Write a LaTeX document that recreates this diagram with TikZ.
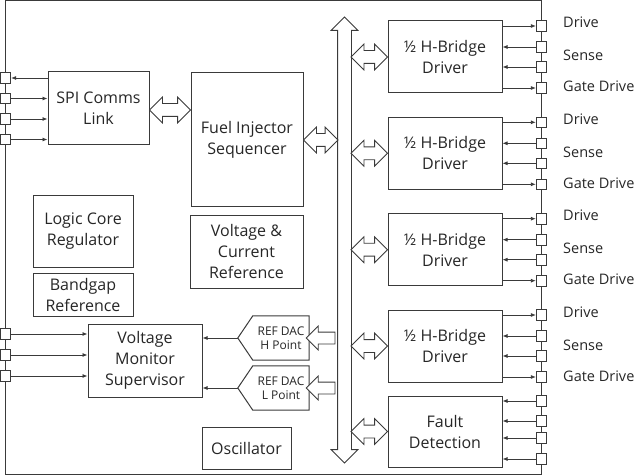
\documentclass[tikz,border=0pt]{standalone}
\usepackage{fontspec}
\setmainfont{Open Sans}
\usetikzlibrary{arrows.meta, shapes.arrows, calc}
\definecolor{linegray}{HTML}{3A3A3A}
\definecolor{textgray}{HTML}{262626}

% wide hollow arrow between two points
\newcommand{\fatlink}[3][dblarrow]{%
  \path let \p1=(#2), \p2=(#3), \n1={veclen(\x2-\x1,\y2-\y1)} in
    node[#1, minimum height=\n1] at ($(#2)!0.5!(#3)$) {};}

\begin{document}
\begin{tikzpicture}[x=1pt, y=-1pt,
    box/.style={rectangle, draw=linegray, line width=1pt, align=center,
                inner sep=0pt, font=\fontsize{16}{21}\selectfont, text=textgray},
    dacbox/.style={rectangle, minimum width=56pt, minimum height=44pt,
                inner sep=0pt, align=center, font=\fontsize{12}{14}\selectfont,
                text=textgray},
    dacline/.style={draw=linegray, line width=1pt},
    iopad/.style={rectangle, draw=linegray, fill=white, line width=0.8pt,
                minimum size=10.5pt, inner sep=0pt},
    sig/.style={-{Latex[length=5pt, width=4pt]}, line width=0.8pt, draw=linegray},
    dblarrow/.style={double arrow, draw=linegray, fill=white, line width=0.8pt,
                inner xsep=0pt, inner ysep=6pt, double arrow head extend=6.5pt},
    sglarrow/.style={single arrow, draw=linegray, fill=white, line width=0.8pt,
                inner xsep=0pt, inner ysep=5.5pt, single arrow head extend=6pt,
                rotate=180},
    lbl/.style={anchor=base west, inner sep=0pt, font=\fontsize{14.5}{20}\selectfont,
                text=textgray}
  ]
    \useasboundingbox (0,0) rectangle (643,476);

    % chip outline
    \draw[linegray, line width=1pt] (5.5,1) rectangle (541.5,474.5);

    \node[box, minimum width=101pt, minimum height=73pt] (spi) at (98.5,108.5) {SPI Comms\\Link};
    \node[box, minimum width=112pt, minimum height=134pt] (fuel) at (247,140) {Fuel Injector\\Sequencer};
    \node[box, minimum width=113pt, minimum height=73pt] (vcr) at (246.5,251.5) {Voltage \&\\Current\\Reference};
    \node[box, minimum width=100pt, minimum height=71pt] (lcr) at (83,231.5) {Logic Core\\Regulator};
    \node[box, minimum width=100pt, minimum height=43pt] (bgr) at (83,294.5) {Bandgap\\Reference};
    \node[box, minimum width=114pt, minimum height=73pt] (vms) at (145,360.5) {Voltage\\Monitor\\Supervisor};
    \node[box, minimum width=89pt, minimum height=42pt] (osc) at (246.5,448) {Oscillator};
    \node[box, minimum width=114pt, minimum height=71pt] (fault) at (445,431.5) {Fault\\Detection};

    % reference DACs (pointed on the left)
    \node[dacbox] (dach) at (281,338) {REF DAC\\H Point};
    \node[dacbox] (dacl) at (281,388) {REF DAC\\L Point};
    \coordinate (dachtip) at ([xshift=-15pt]dach.west);
    \coordinate (dacltip) at ([xshift=-15pt]dacl.west);
    \draw[dacline] (dach.north east) -- (dach.north west) -- (dachtip)
                   -- (dach.south west) -- (dach.south east) -- cycle;
    \draw[dacline] (dacl.north east) -- (dacl.north west) -- (dacltip)
                   -- (dacl.south west) -- (dacl.south east) -- cycle;

    % internal bus
    \node[dblarrow, shape border rotate=90, inner xsep=6.5pt, inner ysep=0pt,
          minimum height=446pt] (bus) at (344.5,240) {};
    \coordinate (busL) at (338,0);
    \coordinate (busR) at (351,0);

    % left pads
    \node[iopad] (s1) at (5.5,78) {};
    \node[iopad] (s2) at (5.5,98.5) {};
    \node[iopad] (s3) at (5.5,119) {};
    \node[iopad] (s4) at (5.5,139.5) {};
    \node[iopad] (v1) at (5.5,334) {};
    \node[iopad] (v2) at (5.5,355) {};
    \node[iopad] (v3) at (5.5,376) {};

    \draw[sig] (spi.west |- s1) -- (s1.east);
    \draw[sig] (s2.east) -- (spi.west |- s2);
    \draw[sig] (s3.east) -- (spi.west |- s3);
    \draw[sig] (s4.east) -- (spi.west |- s4);
    \draw[sig] (v1.east) -- (vms.west |- v1);
    \draw[sig] (v2.east) -- (vms.west |- v2);
    \draw[sig] (v3.east) -- (vms.west |- v3);

    \draw[sig] (dachtip) -- (vms.east |- dachtip);
    \draw[sig] (dacltip) -- (vms.east |- dacltip);

    \fatlink{spi.east |- 0,110}{fuel.west |- 0,110}
    \fatlink{fuel.east}{fuel.east -| busL}
    \fatlink[sglarrow]{busL |- dach.east}{dach.east}
    \fatlink[sglarrow]{busL |- dacl.east}{dacl.east}
    \fatlink{busR |- fault.west}{fault.west}

    % half bridge drivers
    \foreach \i/\cy in {1/57, 2/153.3, 3/249.7, 4/346} {
      \node[box, minimum width=114pt, minimum height=72pt] (hb\i) at (445,\cy) {½ H-Bridge\\Driver};
      \fatlink{busR |- hb\i.west}{hb\i.west}
      \node[iopad] (dr\i) at (541.5,\cy-31) {};
      \node[iopad] (sa\i) at (541.5,\cy-10) {};
      \node[iopad] (sb\i) at (541.5,\cy+10) {};
      \node[iopad] (gd\i) at (541.5,\cy+31) {};
      \draw[sig] (hb\i.east |- dr\i) -- (dr\i.west);
      \draw[sig] (sa\i.west) -- (hb\i.east |- sa\i);
      \draw[sig] (sb\i.west) -- (hb\i.east |- sb\i);
      \draw[sig] (hb\i.east |- gd\i) -- (gd\i.west);
      \node[lbl] (ldr\i) at (563,\cy-29) {Drive};
      \node[lbl] (lse\i) at (563,\cy+4) {Sense};
      \node[lbl] (lgd\i) at (563,\cy+35) {Gate Drive};
    }

    % fault inputs
    \node[iopad] (f1) at (541.5,401) {};
    \node[iopad] (f2) at (541.5,421) {};
    \node[iopad] (f3) at (541.5,438) {};
    \node[iopad] (f4) at (541.5,459) {};
    \draw[sig] (f1.west) -- (fault.east |- f1);
    \draw[sig] (f2.west) -- (fault.east |- f2);
    \draw[sig] (f3.west) -- (fault.east |- f3);
    \draw[sig] (f4.west) -- (fault.east |- f4);
  \end{tikzpicture}
\end{document}
